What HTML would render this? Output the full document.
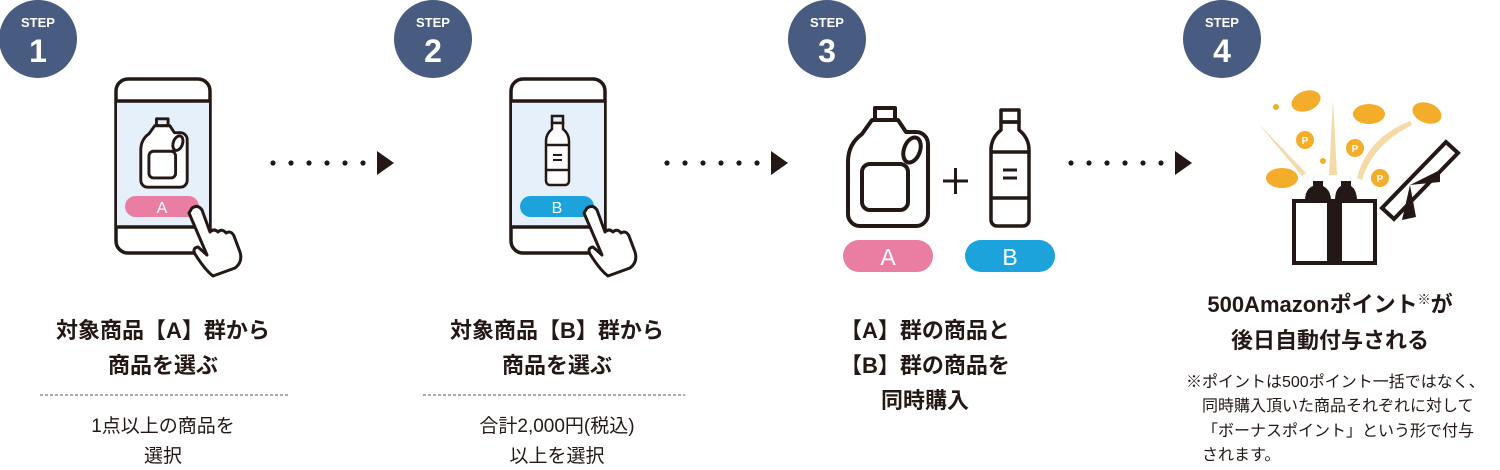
<!DOCTYPE html>
<html><head><meta charset="utf-8"><style>
html,body{margin:0;padding:0;background:#fff;}
svg{display:block;}
text{font-family:"Liberation Sans","Noto Sans CJK JP",sans-serif;fill:#231815;}
</style></head><body>
<svg width="1500" height="470" viewBox="0 0 1500 470" xmlns="http://www.w3.org/2000/svg">
<defs>
<g id="jug" fill="none" stroke="#231815" stroke-linejoin="round">
<rect x="-13" y="-59" width="20" height="12"/>
<path d="M-16 -47 h26 l8 12 h10 a12 12 0 0 1 12 12 v70 a12 12 0 0 1 -12 12 h-56 a12 12 0 0 1 -12 -12 v-52 q0 -18 14 -28z" fill="#fff"/>
<rect x="-26" y="-3" width="46" height="46" rx="8"/>
<ellipse cx="24" cy="-17" rx="8" ry="13" transform="rotate(20 24 -17)"/>
</g>
</defs>
<!-- step circles -->
<g>
<circle cx="38" cy="39" r="39" fill="#485b80"/>
<circle cx="433" cy="39" r="39" fill="#485b80"/>
<circle cx="827" cy="39" r="39" fill="#485b80"/>
<circle cx="1222" cy="39" r="39" fill="#485b80"/>
<g font-weight="bold">
<text x="38" y="27" font-size="13" text-anchor="middle" style="fill:#fff">STEP</text>
<text x="38" y="62" font-size="32" text-anchor="middle" style="fill:#fff">1</text>
<text x="433" y="27" font-size="13" text-anchor="middle" style="fill:#fff">STEP</text>
<text x="433" y="62" font-size="32" text-anchor="middle" style="fill:#fff">2</text>
<text x="827" y="27" font-size="13" text-anchor="middle" style="fill:#fff">STEP</text>
<text x="827" y="62" font-size="32" text-anchor="middle" style="fill:#fff">3</text>
<text x="1222" y="27" font-size="13" text-anchor="middle" style="fill:#fff">STEP</text>
<text x="1222" y="62" font-size="32" text-anchor="middle" style="fill:#fff">4</text>
</g>
</g>

<!-- phone 1 -->
<g stroke="#231815" stroke-width="3.5" fill="none">
<rect x="116" y="79" width="94" height="174" rx="12" fill="#fff"/>
<rect x="117" y="101" width="92" height="126" fill="#e6f0fa" stroke="none"/>
<line x1="116" y1="101" x2="210" y2="101"/>
<line x1="116" y1="227" x2="210" y2="227"/>
<rect x="125" y="196" width="74" height="21" rx="10.5" fill="#ea7ea2" stroke="none"/>
</g>
<use href="#jug" transform="translate(164,153) scale(0.58)" stroke-width="5"/>
<text x="162" y="213" font-size="16" text-anchor="middle" style="fill:#fff">A</text>
<path d="M192 208 q6 -4 10 2 l8 22 q4 -4 8 0 q4 -4 8 1 q5 -3 8 3 l6 16 q3 10 -5 16 l-22 8 q-8 -6 -18 -22 q-3 -6 3 -7 l9 8 l-18 -42z" fill="#fff" stroke="#231815" stroke-width="3" stroke-linejoin="round"/>

<!-- phone 2 -->
<g stroke="#231815" stroke-width="3.5" fill="none">
<rect x="511" y="79" width="94" height="174" rx="12" fill="#fff"/>
<rect x="512" y="101" width="92" height="126" fill="#e6f0fa" stroke="none"/>
<line x1="511" y1="101" x2="605" y2="101"/>
<line x1="511" y1="227" x2="605" y2="227"/>
<rect x="552" y="116" width="11" height="7" stroke-width="2.5"/>
<path d="M552 123 h11 v6 q6 5 6 12 v40 a4 4 0 0 1 -4 4 h-15 a4 4 0 0 1 -4 -4 v-40 q0 -7 6 -12z" fill="#fff" stroke-width="2.5"/>
<line x1="546" y1="145" x2="569" y2="145" stroke-width="2.5"/>
<line x1="546" y1="170" x2="569" y2="170" stroke-width="2.5"/>
<line x1="553" y1="155" x2="562" y2="155" stroke-width="2"/>
<line x1="553" y1="160" x2="562" y2="160" stroke-width="2"/>
<rect x="520" y="196" width="74" height="21" rx="10.5" fill="#1da3dc" stroke="none"/>
</g>
<text x="557" y="213" font-size="16" text-anchor="middle" style="fill:#fff">B</text>
<path d="M587 208 q6 -4 10 2 l8 22 q4 -4 8 0 q4 -4 8 1 q5 -3 8 3 l6 16 q3 10 -5 16 l-22 8 q-8 -6 -18 -22 q-3 -6 3 -7 l9 8 l-18 -42z" fill="#fff" stroke="#231815" stroke-width="3" stroke-linejoin="round"/>

<!-- arrows -->
<g fill="#231815">
<g id="ar">
<circle cx="273" cy="163" r="2.6"/><circle cx="291" cy="163" r="2.6"/><circle cx="309" cy="163" r="2.6"/><circle cx="327" cy="163" r="2.6"/><circle cx="345" cy="163" r="2.6"/><circle cx="363" cy="163" r="2.6"/>
<path d="M377 151 L394 163 L377 175z"/>
</g>
<use href="#ar" x="394"/>
<use href="#ar" x="798"/>
</g>

<!-- step 3 -->
<use href="#jug" transform="translate(888,167)" stroke-width="4"/>
<g stroke="#231815" stroke-width="4" fill="none" stroke-linejoin="round">
<line x1="943" y1="181" x2="968" y2="181" stroke-width="3"/>
<line x1="955.5" y1="168" x2="955.5" y2="194" stroke-width="3"/>
<rect x="1001" y="110" width="18" height="12" stroke-width="3.5"/>
<path d="M1001 122 h18 v8 q10 8 10 20 v70 a6 6 0 0 1 -6 6 h-26 a6 6 0 0 1 -6 -6 v-70 q0 -12 10 -20z" stroke-width="3.5"/>
<line x1="991" y1="152" x2="1029" y2="152" stroke-width="3.5"/>
<line x1="991" y1="198" x2="1029" y2="198" stroke-width="3.5"/>
<line x1="1003" y1="170" x2="1017" y2="170" stroke-width="3"/>
<line x1="1003" y1="178" x2="1017" y2="178" stroke-width="3"/>
</g>
<rect x="843" y="240" width="90" height="32" rx="16" fill="#ea7ea2"/>
<rect x="965" y="240" width="90" height="32" rx="16" fill="#1da3dc"/>
<text x="888" y="265" font-size="23" text-anchor="middle" style="fill:#fff">A</text>
<text x="1010" y="265" font-size="23" text-anchor="middle" style="fill:#fff">B</text>

<!-- step 4 illustration -->
<g>
<path d="M1258 123 l48 50 l-4 3z" fill="#f5d9a6"/>
<path d="M1333 100 l4 75 l-8 0z" fill="#f5d9a6"/>
<path d="M1412 125 q-40 20 -50 55 l-5 -2 q10 -40 53 -57z" fill="#f5d9a6"/>
<g fill="#f4ad2a">
<ellipse cx="1306" cy="101" rx="15" ry="10" transform="rotate(-20 1306 101)"/>
<ellipse cx="1369" cy="114" rx="16" ry="10"/>
<ellipse cx="1427" cy="113" rx="15" ry="10" transform="rotate(20 1427 113)"/>
<ellipse cx="1282" cy="178" rx="16" ry="10"/>
<circle cx="1305" cy="140" r="9"/>
<circle cx="1355" cy="148" r="9"/>
<circle cx="1380" cy="178" r="9"/>
<circle cx="1276" cy="107" r="3"/>
<circle cx="1323" cy="161" r="3"/>
</g>
<g font-size="10" font-weight="bold" text-anchor="middle">
<text x="1305" y="144" style="fill:#fff">P</text>
<text x="1355" y="152" style="fill:#fff">P</text>
<text x="1380" y="182" style="fill:#fff">P</text>
</g>
<path d="M1305 201 q0 -12 8 -15 v-5 h10 v5 q8 4 8 15z M1335 201 q0 -12 6 -15 v-5 h10 v5 q6 4 6 15z" fill="#231815"/>
<rect x="1294" y="201" width="81" height="62" fill="#fff" stroke="#231815" stroke-width="4"/>
<rect x="1327" y="201" width="15" height="62" fill="#231815"/>
<path d="M1382 208 l64 -66 l12 11 l-64 66z" fill="#fff" stroke="#231815" stroke-width="4"/>
<path d="M1410 185 l30 -15 l0 12z M1410 185 l-8 35 l14 -3z" fill="#231815"/>
</g>

<!-- texts -->
<g font-size="22" font-weight="bold" text-anchor="middle">
<text x="163" y="338">対象商品【A】群から</text>
<text x="163" y="373">商品を選ぶ</text>
<text x="557" y="338">対象商品【B】群から</text>
<text x="557" y="373">商品を選ぶ</text>
<text x="925" y="338">【A】群の商品と</text>
<text x="925" y="373">【B】群の商品を</text>
<text x="925" y="408">同時購入</text>
<text x="1330" y="312">500Amazonポイント<tspan font-size="13" dy="-8">※</tspan><tspan dy="8">が</tspan></text>
<text x="1330" y="348">後日自動付与される</text>
</g>
<g stroke="#555" stroke-width="1" stroke-dasharray="3,2">
<line x1="40" y1="395" x2="290" y2="395"/>
<line x1="423" y1="395" x2="685" y2="395"/>
</g>
<g font-size="19" text-anchor="middle">
<text x="163" y="432">1点以上の商品を</text>
<text x="163" y="462">選択</text>
<text x="557" y="432">合計2,000円(税込)</text>
<text x="557" y="462">以上を選択</text>
</g>
<g font-size="16">
<text x="1186" y="387">※ポイントは500ポイント一括ではなく、</text>
<text x="1202" y="411">同時購入頂いた商品それぞれに対して</text>
<text x="1202" y="436">「ボーナスポイント」という形で付与</text>
<text x="1202" y="460">されます。</text>
</g>
</svg>
</body></html>
